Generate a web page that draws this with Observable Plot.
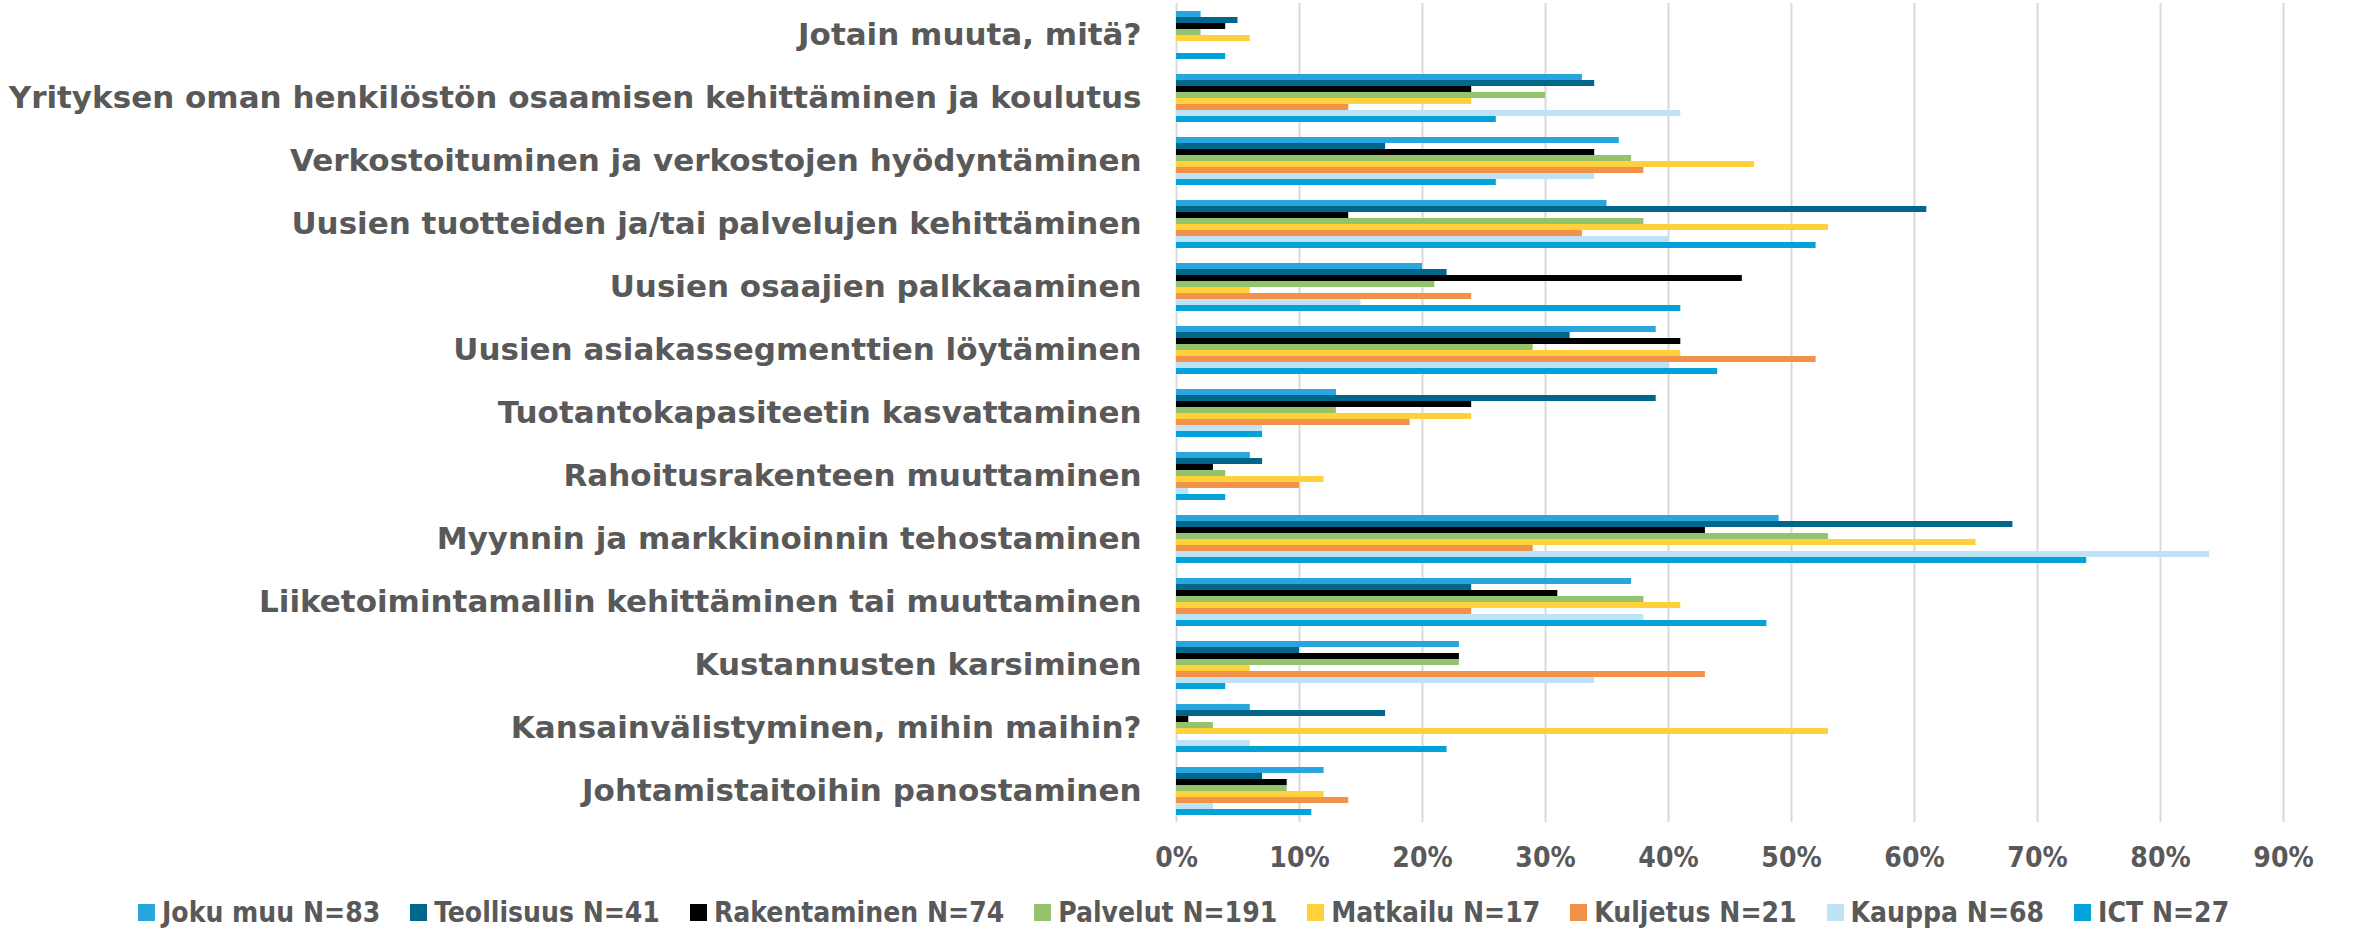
<!DOCTYPE html>
<html>
<head>
<meta charset="utf-8">
<script src="https://cdn.jsdelivr.net/npm/d3@7"></script>
<script src="https://cdn.jsdelivr.net/npm/@observablehq/plot@0.6"></script>
<style>
  html, body { margin: 0; padding: 0; background: #ffffff; }
  #wrap { position: relative; width: 2361px; height: 931px; overflow: hidden; }
  #legend {
    position: absolute; left: 138px; top: 894px; height: 36px;
    display: flex; align-items: center;
    font-family: 'DejaVu Sans Condensed', 'DejaVu Sans', sans-serif;
    font-weight: bold; font-size: 28px; color: #595959; white-space: nowrap;
  }
  .item { display: flex; align-items: center; margin-right: 30px; }
  .sw { width: 17px; height: 17px; margin-right: 7px; }
  .fylab text { font-family: 'DejaVu Sans', sans-serif; }
</style>
</head>
<body>
<div id="wrap">
  <div id="chart"></div>
  <div id="legend"></div>
</div>
<script>
// Categories, top to bottom
const categories = [
  "Jotain muuta, mitä?",
  "Yrityksen oman henkilöstön osaamisen kehittäminen ja koulutus",
  "Verkostoituminen ja verkostojen hyödyntäminen",
  "Uusien tuotteiden ja/tai palvelujen kehittäminen",
  "Uusien osaajien palkkaaminen",
  "Uusien asiakassegmenttien löytäminen",
  "Tuotantokapasiteetin kasvattaminen",
  "Rahoitusrakenteen muuttaminen",
  "Myynnin ja markkinoinnin tehostaminen",
  "Liiketoimintamallin kehittäminen tai muuttaminen",
  "Kustannusten karsiminen",
  "Kansainvälistyminen, mihin maihin?",
  "Johtamistaitoihin panostaminen"
];

const seriesNames = [
  "Joku muu N=83", "Teollisuus N=41", "Rakentaminen N=74", "Palvelut N=191",
  "Matkailu N=17", "Kuljetus N=21", "Kauppa N=68", "ICT N=27"
];
const seriesColors = [
  "#29A6E0", "#00668A", "#000000", "#95C36D",
  "#FFD23C", "#F2924A", "#BEE3F5", "#03A3DA"
];

// Values in percent, same order as categories
const jokuMuu      = [2, 33, 36, 35, 20, 39, 13, 6, 49, 37, 23, 6, 12];
const teollisuus   = [5, 34, 17, 61, 22, 32, 39, 7, 68, 24, 10, 17, 7];
const rakentaminen = [4, 24, 34, 14, 46, 41, 24, 3, 43, 31, 23, 1, 9];
const palvelut     = [2, 30, 37, 38, 21, 29, 13, 4, 53, 38, 23, 3, 9];
const matkailu     = [6, 24, 47, 53, 6, 41, 24, 12, 65, 41, 6, 53, 12];
const kuljetus     = [0, 14, 38, 33, 24, 52, 19, 10, 29, 24, 43, 0, 14];
const kauppa       = [0, 41, 34, 40, 15, 40, 7, 1, 84, 38, 34, 6, 3];
const ict          = [4, 26, 26, 52, 41, 44, 7, 4, 74, 48, 4, 22, 11];

const xTicks = [0, 10, 20, 30, 40, 50, 60, 70, 80, 90];

const seriesValues = [jokuMuu, teollisuus, rakentaminen, palvelut, matkailu, kuljetus, kauppa, ict];

const data = categories.flatMap((c, i) =>
  seriesNames.map((s, j) => ({ category: c, series: s, value: seriesValues[j][i] / 100 }))
);
const ticks = xTicks.map(t => t / 100);

const FONT = "'DejaVu Sans Condensed', 'DejaVu Sans', sans-serif";

const chart = Plot.plot({
  width: 2361,
  height: 875,
  marginLeft: 1176,
  marginRight: 78,
  marginTop: 1,
  marginBottom: 51,
  style: { fontFamily: FONT, fontWeight: "bold", color: "#595959", background: "#ffffff", overflow: "visible" },
  x: { domain: [0, 0.9] },
  fy: { domain: categories, padding: 0, label: null },
  y: { domain: seriesNames, paddingInner: 0, paddingOuter: 0.93, axis: null },
  color: { domain: seriesNames, range: seriesColors },
  marks: [
    Plot.gridX(ticks, { stroke: "#d9d9d9", strokeOpacity: 1, strokeWidth: 2 }),
    Plot.barX(data, { x: "value", y: "series", fy: "category", fill: "series" }),
    Plot.axisX(ticks, {
      tickSize: 0, tickPadding: 25, fontSize: 28, label: null,
      tickFormat: d => Math.round(d * 100) + "%", fill: "#595959"
    }),
    Plot.axisFy({ anchor: "left", tickSize: 0, tickPadding: 35, fontSize: 31, label: null, fill: "#595959", className: "fylab" })
  ]
});
document.getElementById("chart").appendChild(chart);

const legend = document.getElementById("legend");
seriesNames.forEach((s, i) => {
  const item = document.createElement("div");
  item.className = "item";
  const sw = document.createElement("span");
  sw.className = "sw";
  sw.style.background = seriesColors[i];
  const tx = document.createElement("span");
  tx.textContent = s;
  item.appendChild(sw);
  item.appendChild(tx);
  legend.appendChild(item);
});
</script>
</body>
</html>
